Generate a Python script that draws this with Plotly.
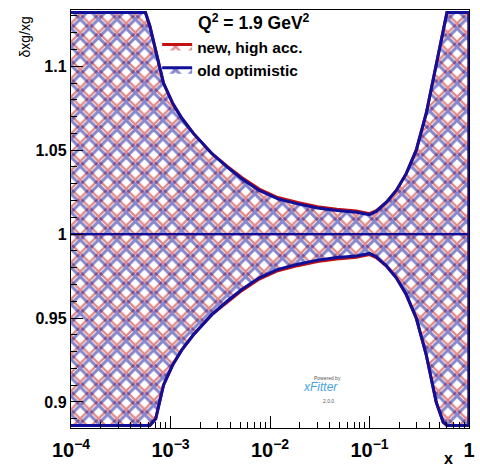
import plotly.graph_objects as go

# ---------------- data ----------------
x_vals = [1e-4, 5.6e-4, 6.2e-4, 7.1e-4, 8.5e-4, 1.05e-3, 1.3e-3, 1.7e-3, 2.1e-3, 2.6e-3,
          3.7e-3, 5.2e-3, 7.8e-3, 0.012, 0.019, 0.03, 0.047, 0.074, 0.1, 0.117,
          0.148, 0.186, 0.234, 0.295, 0.372, 0.468, 0.55, 0.6, 1.0]

old_upper = [1.132, 1.132, 1.124, 1.110, 1.090, 1.078, 1.069, 1.060, 1.054, 1.048,
             1.040, 1.033, 1.026, 1.021, 1.018, 1.0155, 1.014, 1.013, 1.0115, 1.0135,
             1.019, 1.026, 1.036, 1.050, 1.072, 1.100, 1.120, 1.132, 1.132]
old_lower = [0.886, 0.886, 0.886, 0.890, 0.910, 0.922, 0.931, 0.940, 0.946, 0.952,
             0.960, 0.967, 0.974, 0.979, 0.982, 0.9845, 0.986, 0.987, 0.9885, 0.9865,
             0.981, 0.974, 0.964, 0.950, 0.928, 0.900, 0.888, 0.886, 0.886]

new_upper = [1.132, 1.132, 1.124, 1.110, 1.090, 1.078, 1.069, 1.060, 1.054, 1.048,
             1.0405, 1.0337, 1.0268, 1.0218, 1.0188, 1.0163, 1.0148, 1.0138, 1.0122, 1.014,
             1.019, 1.026, 1.036, 1.050, 1.072, 1.100, 1.120, 1.132, 1.132]
new_lower = [0.886, 0.886, 0.886, 0.890, 0.910, 0.922, 0.931, 0.940, 0.946, 0.952,
             0.9595, 0.9663, 0.9732, 0.9782, 0.9812, 0.9837, 0.9852, 0.9862, 0.9878, 0.986,
             0.981, 0.974, 0.964, 0.950, 0.928, 0.900, 0.888, 0.886, 0.886]

central = [1.0] * len(x_vals)

series_names = ["new, high acc.", "old optimistic"]
legend_title = "Q<sup>2</sup> = 1.9 GeV<sup>2</sup>"
x_title = "x"
y_title = "δxg/xg"
y_tickvals = [0.9, 0.95, 1.0, 1.05, 1.1]
y_ticktext = ["0.9", "0.95", "1", "1.05", "1.1"]

# ---------------- style ----------------
RED = "#c41212"
BLUE = "#10109a"
FONT = "Liberation Sans"
W, H = 480, 473
ML, MR, MT, MB = 71, 7, 5, 45
shift = 5                     # offset of the red hatch against the blue one
plot_h = H - MT - MB          # full (red) plotting height
main_h = plot_h - shift       # visible frame height
Y0, Y1 = 0.8845, 1.1335
y_span_red = (Y1 - Y0) * plot_h / main_h
HATCH = 13

fig = go.Figure()

def band(upper, lower, color, name, xa, ya, solidity):
    fig.add_trace(go.Scatter(
        x=x_vals + x_vals[::-1], y=upper + lower[::-1],
        mode="lines", fill="toself", fillcolor="rgba(0,0,0,0)",
        fillpattern=dict(shape="x", fgcolor=color, bgcolor="rgba(0,0,0,0)",
                         size=HATCH, solidity=solidity),
        line=dict(color=color, width=3),
        name=name, xaxis=xa, yaxis=ya, hoverinfo="skip"))
    fig.add_trace(go.Scatter(
        x=x_vals, y=central, mode="lines", line=dict(color=color, width=2.2),
        showlegend=False, xaxis=xa, yaxis=ya, hoverinfo="skip"))

band(new_upper, new_lower, RED, series_names[0], "x", "y", 0.32)
band(old_upper, old_lower, BLUE, series_names[1], "x2", "y2", 0.42)

fig.update_layout(
    width=W, height=H,
    margin=dict(l=ML, r=MR, t=MT, b=MB),
    paper_bgcolor="white", plot_bgcolor="rgba(0,0,0,0)",
    showlegend=True,
    legend=dict(x=(158 - ML) / (W - ML - MR), y=(H - MB - 30) / plot_h,
                xanchor="left", yanchor="top",
                bgcolor="rgba(0,0,0,0)", borderwidth=0,
                font=dict(family=FONT, size=15.5, color="black", weight="bold"),
                itemwidth=30, tracegroupgap=0),
    xaxis=dict(type="log", range=[-4, 0], domain=[0, 1], visible=False),
    yaxis=dict(range=[Y0, Y0 + y_span_red], domain=[0, 1], visible=False),
    xaxis2=dict(type="log", range=[-4, 0], domain=[0, 1], anchor="y2",
                showline=True, mirror=True, linecolor="black", linewidth=1.2,
                ticks="inside", ticklen=12, tickcolor="black", dtick=1,
                exponentformat="power", showgrid=False, zeroline=False,
                minor=dict(ticks="inside", ticklen=6, dtick="D1", tickcolor="black", showgrid=False),
                tickfont=dict(family=FONT, size=16, color="black", weight="bold"),
                ticklabelstandoff=5, ticklabeloverflow="allow"),
    yaxis2=dict(range=[Y0, Y1], domain=[0, main_h / plot_h], anchor="x2",
                showline=True, mirror=True, linecolor="black", linewidth=1.2,
                ticks="inside", ticklen=12, tickcolor="black",
                tickvals=y_tickvals, ticktext=y_ticktext,
                showgrid=False, zeroline=False,
                minor=dict(ticks="inside", ticklen=6, dtick=0.01, tick0=0.9, tickcolor="black", showgrid=False),
                tickfont=dict(family=FONT, size=16, color="black", weight="bold")),
)

pw = W - ML - MR
def px2paper(xp, yp):
    return (xp - ML) / pw, (H - MB - yp) / plot_h

ax, ay = px2paper(197, 22)
fig.add_annotation(x=ax, y=ay, xref="paper", yref="paper", text=legend_title,
                   showarrow=False, xanchor="left", yanchor="middle",
                   font=dict(family=FONT, size=17.5, color="black", weight="bold"))
ax, ay = px2paper(452, 458)
fig.add_annotation(x=ax, y=ay, xref="paper", yref="paper", text=x_title,
                   showarrow=False, xanchor="center", yanchor="middle",
                   font=dict(family=FONT, size=16, color="black", weight="bold"))
ax, ay = px2paper(25, 37)
fig.add_annotation(x=ax, y=ay, xref="paper", yref="paper", text=y_title,
                   showarrow=False, xanchor="center", yanchor="middle", textangle=-90,
                   font=dict(family=FONT, size=14, color="black"))

# xFitter logo (text)
ax, ay = px2paper(343, 396)
fig.add_annotation(x=ax, y=ay, xref="paper", yref="paper", text="<i>xFitter</i>",
                   showarrow=False, font=dict(family=FONT, size=12, color="#4aa3e0"))
ax, ay = px2paper(346, 383)
fig.add_annotation(x=ax, y=ay, xref="paper", yref="paper", text="Powered by",
                   showarrow=False, font=dict(family=FONT, size=5, color="#555555"))
ax, ay = px2paper(331, 406)
fig.add_annotation(x=ax, y=ay, xref="paper", yref="paper", text="2.0.0",
                   showarrow=False, font=dict(family=FONT, size=5, color="#555555"))

fig.write_html("out.html",
               config={"displayModeBar": False, "staticPlot": True},
               post_script="document.body.style.margin='0px';document.body.style.overflow='hidden';")
